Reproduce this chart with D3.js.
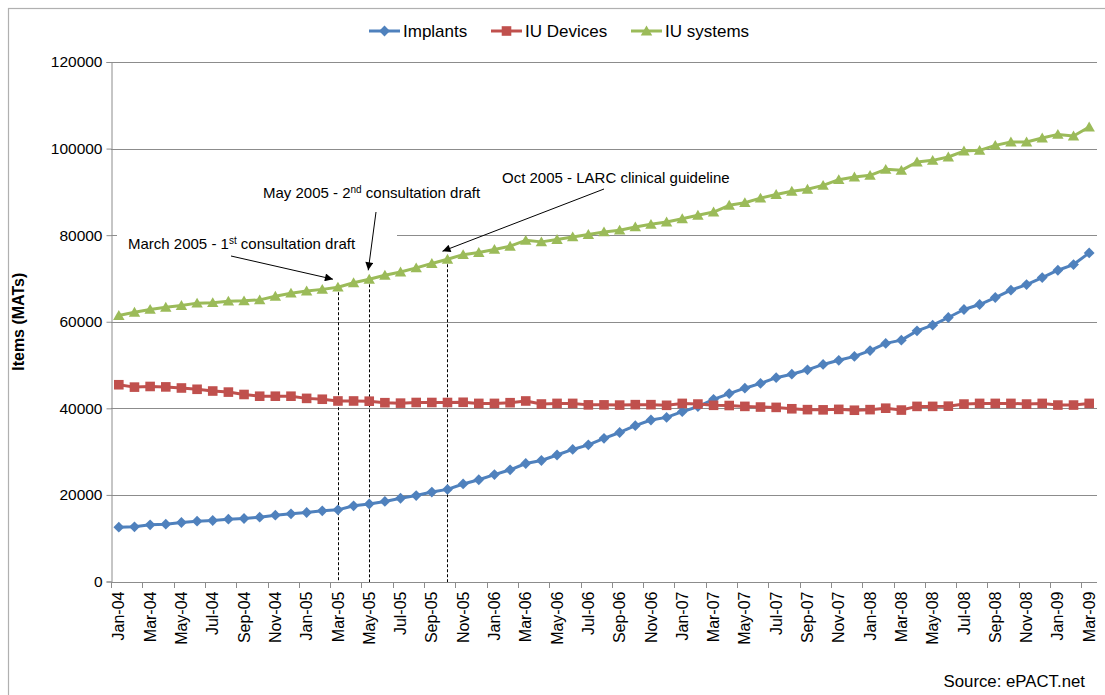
<!DOCTYPE html>
<html>
<head>
<meta charset="utf-8">
<script src="https://cdn.jsdelivr.net/npm/d3@7"></script>
<style>
  html, body { margin: 0; padding: 0; background: #fff; }
  svg { display: block; font-family: "Liberation Sans", Arial, sans-serif; }
</style>
</head>
<body>
<svg id="chart" width="1105" height="695"></svg>
<script>
// Monthly categories, Jan 2004 to Mar 2009
const months = [
  "Jan-04","Feb-04","Mar-04","Apr-04","May-04","Jun-04","Jul-04","Aug-04","Sep-04","Oct-04","Nov-04","Dec-04",
  "Jan-05","Feb-05","Mar-05","Apr-05","May-05","Jun-05","Jul-05","Aug-05","Sep-05","Oct-05","Nov-05","Dec-05",
  "Jan-06","Feb-06","Mar-06","Apr-06","May-06","Jun-06","Jul-06","Aug-06","Sep-06","Oct-06","Nov-06","Dec-06",
  "Jan-07","Feb-07","Mar-07","Apr-07","May-07","Jun-07","Jul-07","Aug-07","Sep-07","Oct-07","Nov-07","Dec-07",
  "Jan-08","Feb-08","Mar-08","Apr-08","May-08","Jun-08","Jul-08","Aug-08","Sep-08","Oct-08","Nov-08","Dec-08",
  "Jan-09","Feb-09","Mar-09"
];

// Items prescribed, moving annual totals
const implants = [
  12550,12630,13090,13240,13630,13940,14090,14400,14550,14860,15320,15630,
  15940,16320,16550,17480,17900,18500,19230,19850,20660,21280,22530,23500,
  24700,25800,27260,27950,29220,30500,31570,33070,34420,36000,37300,37910,
  39220,40400,42070,43400,44650,45760,47080,47880,48900,50140,51100,52000,
  53350,55000,55750,57900,59210,60980,62830,63980,65600,67290,68590,70210,
  71900,73210,75900
];
const iuDevices = [
  45450,44900,45050,44950,44700,44400,44000,43750,43200,42800,42800,42800,
  42300,42100,41700,41700,41650,41300,41200,41350,41350,41350,41400,41140,
  41140,41300,41700,41000,41140,41140,40800,40800,40750,40850,40850,40700,
  41140,40990,40700,40650,40450,40300,40220,39900,39700,39650,39760,39560,
  39700,40030,39600,40450,40450,40500,40990,41140,41140,41140,40990,41140,
  40760,40760,41140
];
const iuSystems = [
  61450,62200,62850,63350,63750,64300,64400,64750,64830,65050,65900,66600,
  67100,67480,67980,69000,69800,70750,71500,72440,73440,74440,75500,76000,
  76700,77450,78800,78450,79000,79600,80150,80750,81150,81900,82500,83050,
  83800,84600,85350,86900,87500,88550,89400,90130,90590,91510,92820,93430,
  93820,95200,94970,96900,97280,98050,99430,99590,100740,101510,101510,102430,
  103280,102900,104970
];

const seriesNames = ["Implants", "IU Devices", "IU systems"];
const seriesColors = ["#4F81BD", "#C0504D", "#9BBB59"];
const yTicks = [0, 20000, 40000, 60000, 80000, 100000, 120000];

// Guideline milestones, marked on the IU systems line
const eventMonths = ["Mar-05", "May-05", "Oct-05"];
const eventLabels = [
  ["March 2005 - 1", "st", " consultation draft"],
  ["May 2005 - 2", "nd", " consultation draft"],
  ["Oct 2005 - LARC clinical guideline", "", ""]
];

const svg = d3.select("#chart");
const W = 1105, H = 695;
const plot = { left: 111, right: 1097, top: 62, bottom: 581.5 };

// outer frame
svg.append("rect")
  .attr("x", 8.5).attr("y", 8.5).attr("width", W).attr("height", H)
  .attr("fill", "#fff").attr("stroke", "#b0b0b0").attr("stroke-width", 1.2);

const x = d3.scaleBand().domain(months).range([plot.left, plot.right]).padding(0);
const cx = m => x(m) + x.bandwidth() / 2;
const y = d3.scaleLinear().domain([0, 120000]).range([plot.bottom, plot.top]);

// horizontal gridlines
svg.append("g")
  .selectAll("line").data(yTicks.filter(v => v > 0)).join("line")
  .attr("x1", plot.left).attr("x2", plot.right)
  .attr("y1", d => Math.round(y(d)) + 0.5).attr("y2", d => Math.round(y(d)) + 0.5)
  .attr("stroke", "#8c8c8c").attr("stroke-width", 1);

// y axis
const yAxis = svg.append("g")
  .attr("transform", `translate(${plot.left + 0.5},0)`)
  .call(d3.axisLeft(y).tickValues(yTicks).tickSize(5).tickPadding(4).tickFormat(d => String(d)));
yAxis.select(".domain").attr("stroke", "#8c8c8c");
yAxis.selectAll(".tick line").attr("stroke", "#8c8c8c");
yAxis.selectAll(".tick text")
  .attr("font-size", 15.5).attr("fill", "#000")
  .attr("font-family", "Liberation Sans, Arial, sans-serif");

// x axis: labels on every second month, ticks between category pairs
const xAxis = svg.append("g")
  .attr("transform", `translate(0,${Math.round(plot.bottom) + 0.5})`)
  .call(d3.axisBottom(x).tickValues(months.filter((d, i) => i % 2 === 0)).tickSize(0).tickPadding(0));
xAxis.select(".domain").attr("stroke", "#8c8c8c").attr("d", `M${plot.left},0H${plot.right}`);
xAxis.selectAll(".tick text")
  .attr("font-size", 16).attr("fill", "#000")
  .attr("font-family", "Liberation Sans, Arial, sans-serif")
  .attr("transform", "rotate(-90)")
  .attr("text-anchor", "end")
  .attr("dy", "0.35em")
  .attr("x", -9).attr("y", 0);

svg.append("g")
  .selectAll("line").data(months.filter((d, i) => i % 2 === 0)).join("line")
  .attr("x1", d => Math.round(x(d)) + 0.5).attr("x2", d => Math.round(x(d)) + 0.5)
  .attr("y1", Math.round(plot.bottom)).attr("y2", Math.round(plot.bottom) + 6)
  .attr("stroke", "#8c8c8c");

// y axis title
svg.append("text")
  .attr("transform", `translate(24,${(plot.top + plot.bottom) / 2}) rotate(-90)`)
  .attr("text-anchor", "middle")
  .attr("font-size", 16).attr("font-weight", "bold")
  .text("Items (MATs)");

// marker shapes
const diamond = { draw(ctx, s) { const r = s; ctx.moveTo(0, -r); ctx.lineTo(r, 0); ctx.lineTo(0, r); ctx.lineTo(-r, 0); ctx.closePath(); } };
const square = { draw(ctx, s) { ctx.rect(-s, -s, 2 * s, 2 * s); } };
const triangle = { draw(ctx, s) { ctx.moveTo(0, -s * 1.05); ctx.lineTo(s * 1.1, s * 0.85); ctx.lineTo(-s * 1.1, s * 0.85); ctx.closePath(); } };
const shapes = [
  d3.symbol(diamond, 5.4)(),
  d3.symbol(square, 4.8)(),
  d3.symbol(triangle, 5.2)()
];

const allSeries = [implants, iuDevices, iuSystems];

// dashed drop lines for milestones
svg.append("g")
  .selectAll("line").data(eventMonths).join("line")
  .attr("x1", d => Math.round(cx(d)) + 0.5).attr("x2", d => Math.round(cx(d)) + 0.5)
  .attr("y1", d => y(iuSystems[months.indexOf(d)]))
  .attr("y2", Math.round(plot.bottom))
  .attr("stroke", "#000").attr("stroke-width", 1).attr("stroke-dasharray", "3,2");

// series lines and markers
const line = d3.line().x((d, i) => cx(months[i])).y(d => y(d));
allSeries.forEach((vals, k) => {
  const g = svg.append("g");
  g.append("path").datum(vals)
    .attr("d", line).attr("fill", "none")
    .attr("stroke", seriesColors[k]).attr("stroke-width", 3).attr("stroke-linejoin", "round");
  g.selectAll("path.m").data(vals).join("path").attr("class", "m")
    .attr("d", shapes[k])
    .attr("transform", (d, i) => `translate(${cx(months[i])},${y(d)})`)
    .attr("fill", seriesColors[k]);
});

// legend
const legendX = [369, 491, 631];
const legend = svg.append("g");
seriesNames.forEach((name, k) => {
  const g = legend.append("g").attr("transform", `translate(${legendX[k]},31)`);
  g.append("line").attr("x1", 0).attr("x2", 31).attr("y1", 0).attr("y2", 0)
    .attr("stroke", seriesColors[k]).attr("stroke-width", 3);
  g.append("path").attr("d", shapes[k]).attr("transform", "translate(15.5,0)").attr("fill", seriesColors[k]);
  g.append("text").attr("x", 34).attr("y", 0).attr("dy", "0.35em")
    .attr("font-size", 17).text(name);
});

// annotation boxes, arrows and labels
const defs = svg.append("defs");
defs.append("marker").attr("id", "arrowhead")
  .attr("viewBox", "0 0 10 10").attr("refX", 10).attr("refY", 5)
  .attr("markerWidth", 10).attr("markerHeight", 8).attr("markerUnits", "userSpaceOnUse")
  .attr("orient", "auto")
  .append("path").attr("d", "M0,0L10,5L0,10Z").attr("fill", "#000");

const notePos = [
  { tx: 128, ty: 249, box: [117, 226, 280, 30], from: [231, 256] },
  { tx: 263, ty: 198, box: null, from: [376, 212] },
  { tx: 502, ty: 183, box: null, from: [604, 189] }
];
const notes = svg.append("g");
eventMonths.forEach((m, k) => {
  const p = notePos[k];
  if (p.box) {
    notes.append("rect").attr("x", p.box[0]).attr("y", p.box[1])
      .attr("width", p.box[2]).attr("height", p.box[3]).attr("fill", "#fff");
  }
  const t = notes.append("text").attr("x", p.tx).attr("y", p.ty).attr("font-size", 15).attr("fill", "#000");
  const parts = eventLabels[k];
  t.append("tspan").text(parts[0]);
  if (parts[1]) {
    t.append("tspan").attr("dy", -5).attr("font-size", 10).text(parts[1]);
    t.append("tspan").attr("dy", 5).text(parts[2]);
  }
  const tipX = cx(m) - (k === 1 ? 1 : 5), tipY = y(iuSystems[months.indexOf(m)]) - (k === 1 ? 9 : 8);
  notes.append("line")
    .attr("x1", p.from[0]).attr("y1", p.from[1])
    .attr("x2", tipX).attr("y2", tipY)
    .attr("stroke", "#000").attr("stroke-width", 1)
    .attr("marker-end", "url(#arrowhead)");
});

// source note
svg.append("text")
  .attr("x", 1085).attr("y", 687).attr("text-anchor", "end")
  .attr("font-size", 16.8).text("Source: ePACT.net");
</script>
</body>
</html>
